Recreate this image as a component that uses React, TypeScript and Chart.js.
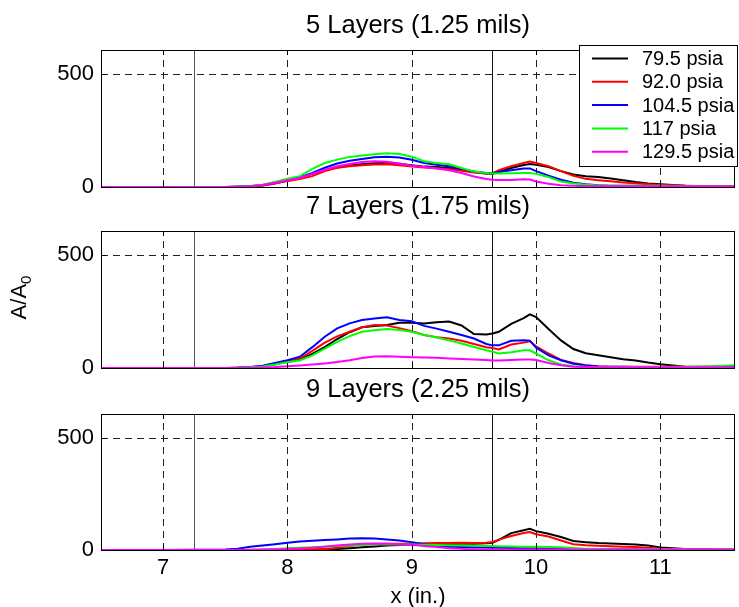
import React, { useEffect, useRef } from "react";
import { Chart, registerables } from "chart.js";

Chart.register(...registerables);

const FONT = "'Liberation Sans', Arial, Helvetica, sans-serif";

// ---------- data ----------
const xPositions = [
  6.5, 7.0, 7.5, 7.6, 7.7, 7.8, 7.9, 8.0, 8.1, 8.2, 8.3, 8.4, 8.5, 8.6, 8.7, 8.8, 8.9, 9.0,
  9.1, 9.2, 9.3, 9.4, 9.5, 9.6, 9.65, 9.7, 9.8, 9.9, 9.95, 10.0, 10.1, 10.2, 10.3, 10.4, 10.5,
  10.6, 10.7, 10.8, 10.9, 11.0, 11.2, 11.4, 11.6,
];

const seriesLabels = ["79.5 psia", "92.0 psia", "104.5 psia", "117 psia", "129.5 psia"];
const seriesColors = ["#000000", "#ff0000", "#0000ff", "#00ff00", "#ff00ff"];
const panelTitles = ["5 Layers (1.25 mils)", "7 Layers (1.75 mils)", "9 Layers (2.25 mils)"];
const xTicks = [7, 8, 9, 10, 11];
const yTicks = [0, 500];
const xRange = [6.5, 11.6];
const yRange = [0, 605];
const markerLinesX = [7.25, 9.645];
const xAxisLabel = "x (in.)";
const yAxisLabel = ["A/A", "0"];

// 5 layers (1.25 mils)
const l5_795 = [0,0,0,1,3,8,17,28,40,58,74,86,95,100,105,106,103,96,90,88,84,76,66,60,58,68,84,97,101,98,88,70,55,47,44,38,30,22,16,12,6,4,3];
const l5_920 = [0,0,0,1,2,6,15,27,35,48,70,85,92,96,99,100,96,90,86,83,78,72,64,60,60,74,92,106,112,106,92,70,50,36,30,25,20,16,12,9,5,3,3];
const l5_1045 = [0,0,0,1,3,9,20,32,42,62,85,104,116,124,131,134,130,120,106,98,92,80,68,62,62,66,74,82,82,70,50,32,19,12,8,6,5,5,4,4,3,3,3];
const l5_117 = [0,0,0,1,4,10,22,36,48,80,106,121,133,139,145,149,146,134,114,106,100,84,68,62,60,60,61,62,62,58,44,24,15,10,7,6,5,5,5,5,4,4,4];
const l5_1295 = [0,0,0,1,3,9,19,30,40,58,76,92,102,110,114,112,104,94,88,82,74,62,46,35,32,31,31,34,33,24,14,8,5,4,3,3,3,3,3,3,3,3,3];

// 7 layers (1.75 mils)
const l7_795 = [0,0,0,1,3,8,16,27,37,62,92,128,158,180,186,190,200,200,196,202,205,188,150,148,152,160,195,220,237,225,172,122,84,65,56,47,39,33,24,17,6,4,4];
const l7_920 = [0,0,0,1,3,8,18,30,42,76,112,140,160,180,190,188,176,162,146,136,130,120,106,92,88,82,104,112,118,96,64,36,22,12,8,6,5,5,5,5,5,6,8];
const l7_1045 = [0,0,0,1,4,10,22,34,50,92,138,175,197,212,219,224,212,206,186,174,160,146,130,106,100,100,120,123,121,90,56,34,19,11,7,5,5,4,4,4,4,4,5];
const l7_117 = [0,0,0,1,3,7,15,25,33,56,86,115,141,160,167,172,168,160,146,135,122,108,93,78,72,64,70,78,78,64,34,16,8,5,4,4,4,4,4,4,5,8,12];
const l7_1295 = [0,0,0,0,1,2,4,8,11,15,20,26,34,44,51,52,50,48,46,45,42,40,37,35,33,33,35,37,37,35,22,12,6,4,3,3,3,3,3,3,3,3,3];

// 9 layers (2.25 mils)
const l9_795 = [0,0,0,0,0,0,0,0,1,2,3,5,8,12,16,20,22,24,25,26,27,28,28,30,32,45,75,88,94,84,72,58,40,35,31,29,27,25,20,11,4,3,3];
const l9_920 = [0,0,0,0,0,0,0,0,1,2,4,10,18,24,27,28,28,29,30,31,31,32,31,32,36,46,62,76,80,70,60,42,26,21,19,17,15,13,10,6,3,2,2];
const l9_1045 = [0,0,2,6,14,20,26,32,38,41,44,47,51,52,51,47,42,35,26,18,15,13,12,11,10,10,9,8,8,7,6,5,4,4,3,3,3,2,2,2,2,2,2];
const l9_117 = [0,0,0,0,1,2,4,8,10,12,15,18,20,22,24,25,25,25,23,22,21,20,19,18,18,17,16,15,15,14,13,12,9,6,4,3,3,3,3,3,3,3,4];
const l9_1295 = [0,0,0,0,1,2,3,5,7,10,15,20,25,28,29,28,26,23,18,13,8,5,3,2,2,2,2,2,2,2,2,2,2,2,2,2,2,2,2,2,2,2,2];

const panelSeries = [
  [l5_795, l5_920, l5_1045, l5_117, l5_1295],
  [l7_795, l7_920, l7_1045, l7_117, l7_1295],
  [l9_795, l9_920, l9_1045, l9_117, l9_1295],
];

// ---------- layout (styles) ----------
const W = 739;
const H = 607;
const PLOT_LEFT = 101;
const PLOT_RIGHT = 735;
const panelBox = [
  { top: 50, bottom: 187 },
  { top: 231, bottom: 368 },
  { top: 414, bottom: 550 },
];

function hLine(ctx: any, x1: number, x2: number, y: number) {
  ctx.fillRect(Math.min(x1, x2), y, Math.abs(x2 - x1), 1);
}
function vLine(ctx: any, x: number, y1: number, y2: number) {
  ctx.fillRect(x, Math.min(y1, y2), 1, Math.abs(y2 - y1));
}

function makeFramePlugin(panelIndex: number) {
  return {
    id: "frame" + panelIndex,
    beforeDatasetsDraw(chart: any) {
      const { ctx, chartArea: a, scales } = chart;
      const xs = scales.x;
      const ys = scales.y;
      ctx.save();
      ctx.strokeStyle = "#222";
      ctx.lineWidth = 1;
      ctx.setLineDash([7, 5]);
      for (const t of xTicks) {
        const px = Math.round(xs.getPixelForValue(t)) + 0.5;
        ctx.beginPath();
        ctx.moveTo(px, a.bottom);
        ctx.lineTo(px, a.top);
        ctx.stroke();
      }
      for (const t of yTicks) {
        if (t === yRange[0]) continue;
        const py = Math.round(ys.getPixelForValue(t)) + 0.5;
        ctx.beginPath();
        ctx.moveTo(a.left, py);
        ctx.lineTo(a.right, py);
        ctx.stroke();
      }
      ctx.setLineDash([]);
      markerLinesX.forEach((v, i) => {
        const px = Math.round(xs.getPixelForValue(v));
        ctx.fillStyle = i === 0 ? "#555" : "#111";
        vLine(ctx, px, a.top, a.bottom);
      });
      ctx.restore();
    },
    afterDraw(chart: any) {
      const { ctx, chartArea: a, scales } = chart;
      const xs = scales.x;
      const ys = scales.y;
      ctx.save();
      ctx.setLineDash([]);

      // axes box + inward ticks
      ctx.fillStyle = "#000";
      const l = Math.round(a.left);
      const r = Math.round(a.right) - 1;
      const t = Math.round(a.top);
      const b = Math.round(a.bottom);
      hLine(ctx, l, r + 1, t);
      hLine(ctx, l, r + 1, b);
      vLine(ctx, l, t, b + 1);
      vLine(ctx, r, t, b + 1);
      const tl = 5;
      for (const v of xTicks) {
        const px = Math.round(xs.getPixelForValue(v));
        vLine(ctx, px, b - tl, b);
        vLine(ctx, px, t, t + tl);
      }
      for (const v of yTicks) {
        const py = Math.round(ys.getPixelForValue(v));
        hLine(ctx, l, l + tl, py);
        hLine(ctx, r - tl, r, py);
      }

      // title
      ctx.fillStyle = "#000";
      ctx.font = "25.5px " + FONT;
      ctx.textAlign = "center";
      ctx.textBaseline = "alphabetic";
      ctx.fillText(panelTitles[panelIndex], (a.left + a.right) / 2, a.top - 17);

      if (panelIndex === 0) {
        // legend
        const bw = 158;
        const bh = 121;
        const bx = Math.round(a.right + 2 - bw);
        const by = Math.round(a.top - 5);
        ctx.fillStyle = "#fff";
        ctx.fillRect(bx, by, bw, bh);
        ctx.fillStyle = "#000";
        hLine(ctx, bx, bx + bw + 1, by);
        hLine(ctx, bx, bx + bw + 1, by + bh);
        vLine(ctx, bx, by, by + bh);
        vLine(ctx, bx + bw, by, by + bh);
        ctx.font = "20px " + FONT;
        ctx.textAlign = "left";
        ctx.textBaseline = "middle";
        chart.data.datasets.forEach((ds: any, i: number) => {
          const y = by + 13.5 + i * 23.3;
          ctx.strokeStyle = ds.borderColor;
          ctx.lineWidth = 2;
          ctx.beginPath();
          ctx.moveTo(bx + 13, y);
          ctx.lineTo(bx + 49, y);
          ctx.stroke();
          ctx.fillStyle = "#000";
          ctx.fillText(ds.label, bx + 63, y + 1);
        });
      }

      if (panelIndex === 1) {
        ctx.translate(18, (a.top + a.bottom) / 2 - 2);
        ctx.rotate(-Math.PI / 2);
        ctx.fillStyle = "#000";
        ctx.textAlign = "left";
        ctx.textBaseline = "alphabetic";
        ctx.font = "22px " + FONT;
        const w1 = ctx.measureText(yAxisLabel[0]).width;
        ctx.font = "15px " + FONT;
        const w2 = ctx.measureText(yAxisLabel[1]).width;
        const start = -(w1 + w2) / 2;
        ctx.font = "22px " + FONT;
        ctx.fillText(yAxisLabel[0], start, 8);
        ctx.font = "15px " + FONT;
        ctx.fillText(yAxisLabel[1], start + w1, 13);
      }
      ctx.restore();
    },
  };
}

function buildConfig(panelIndex: number): any {
  const box = panelBox[panelIndex];
  const isLast = panelIndex === panelBox.length - 1;
  const datasets = panelSeries[panelIndex].map((vals, i) => ({
    label: seriesLabels[i],
    data: xPositions.map((x, k) => ({ x, y: vals[k] })),
    borderColor: seriesColors[i],
    backgroundColor: seriesColors[i],
    borderWidth: 2,
    pointRadius: 0,
    tension: 0,
    fill: false,
    order: seriesLabels.length - 1 - i,
  }));
  return {
    type: "line",
    data: { datasets },
    options: {
      responsive: false,
      maintainAspectRatio: false,
      animation: false,
      devicePixelRatio: 1,
      layout: { padding: { top: box.top, left: 0, right: W - PLOT_RIGHT, bottom: 0 } },
      plugins: {
        legend: { display: false },
        title: { display: false },
        tooltip: { enabled: false },
      },
      scales: {
        x: {
          type: "linear",
          min: xRange[0],
          max: xRange[1],
          grid: { display: false, drawTicks: false },
          border: { display: false },
          afterBuildTicks: (s: any) => {
            s.ticks = xTicks.map((v) => ({ value: v }));
          },
          afterFit: (s: any) => {
            s.height = H - box.bottom;
          },
          ticks: {
            display: isLast,
            color: "#000",
            font: { family: FONT, size: 22 },
            padding: 5,
            maxRotation: 0,
            autoSkip: false,
          },
          title: {
            display: isLast,
            text: xAxisLabel,
            color: "#000",
            font: { family: FONT, size: 22 },
            padding: { top: 0, bottom: -3 },
          },
        },
        y: {
          type: "linear",
          min: yRange[0],
          max: yRange[1],
          grid: { display: false, drawTicks: false },
          border: { display: false },
          afterBuildTicks: (s: any) => {
            s.ticks = yTicks.map((v) => ({ value: v }));
          },
          afterFit: (s: any) => {
            s.width = PLOT_LEFT;
          },
          ticks: {
            color: "#000",
            font: { family: FONT, size: 22 },
            padding: 7,
          },
        },
      },
    },
    plugins: [makeFramePlugin(panelIndex)],
  };
}

function Panel({ index }: { index: number }) {
  const ref = useRef<HTMLCanvasElement | null>(null);
  useEffect(() => {
    if (!ref.current) return;
    const chart = new Chart(ref.current, buildConfig(index));
    return () => chart.destroy();
  }, [index]);
  return (
    <canvas
      ref={ref}
      width={W}
      height={H}
      style={{ position: "absolute", left: 0, top: 0, width: W, height: H }}
    />
  );
}

export default function App() {
  return (
    <div
      style={{
        position: "absolute",
        left: 0,
        top: 0,
        width: W,
        height: H,
        background: "#fff",
        overflow: "hidden",
      }}
    >
      {panelTitles.map((_, i) => (
        <Panel key={i} index={i} />
      ))}
    </div>
  );
}
